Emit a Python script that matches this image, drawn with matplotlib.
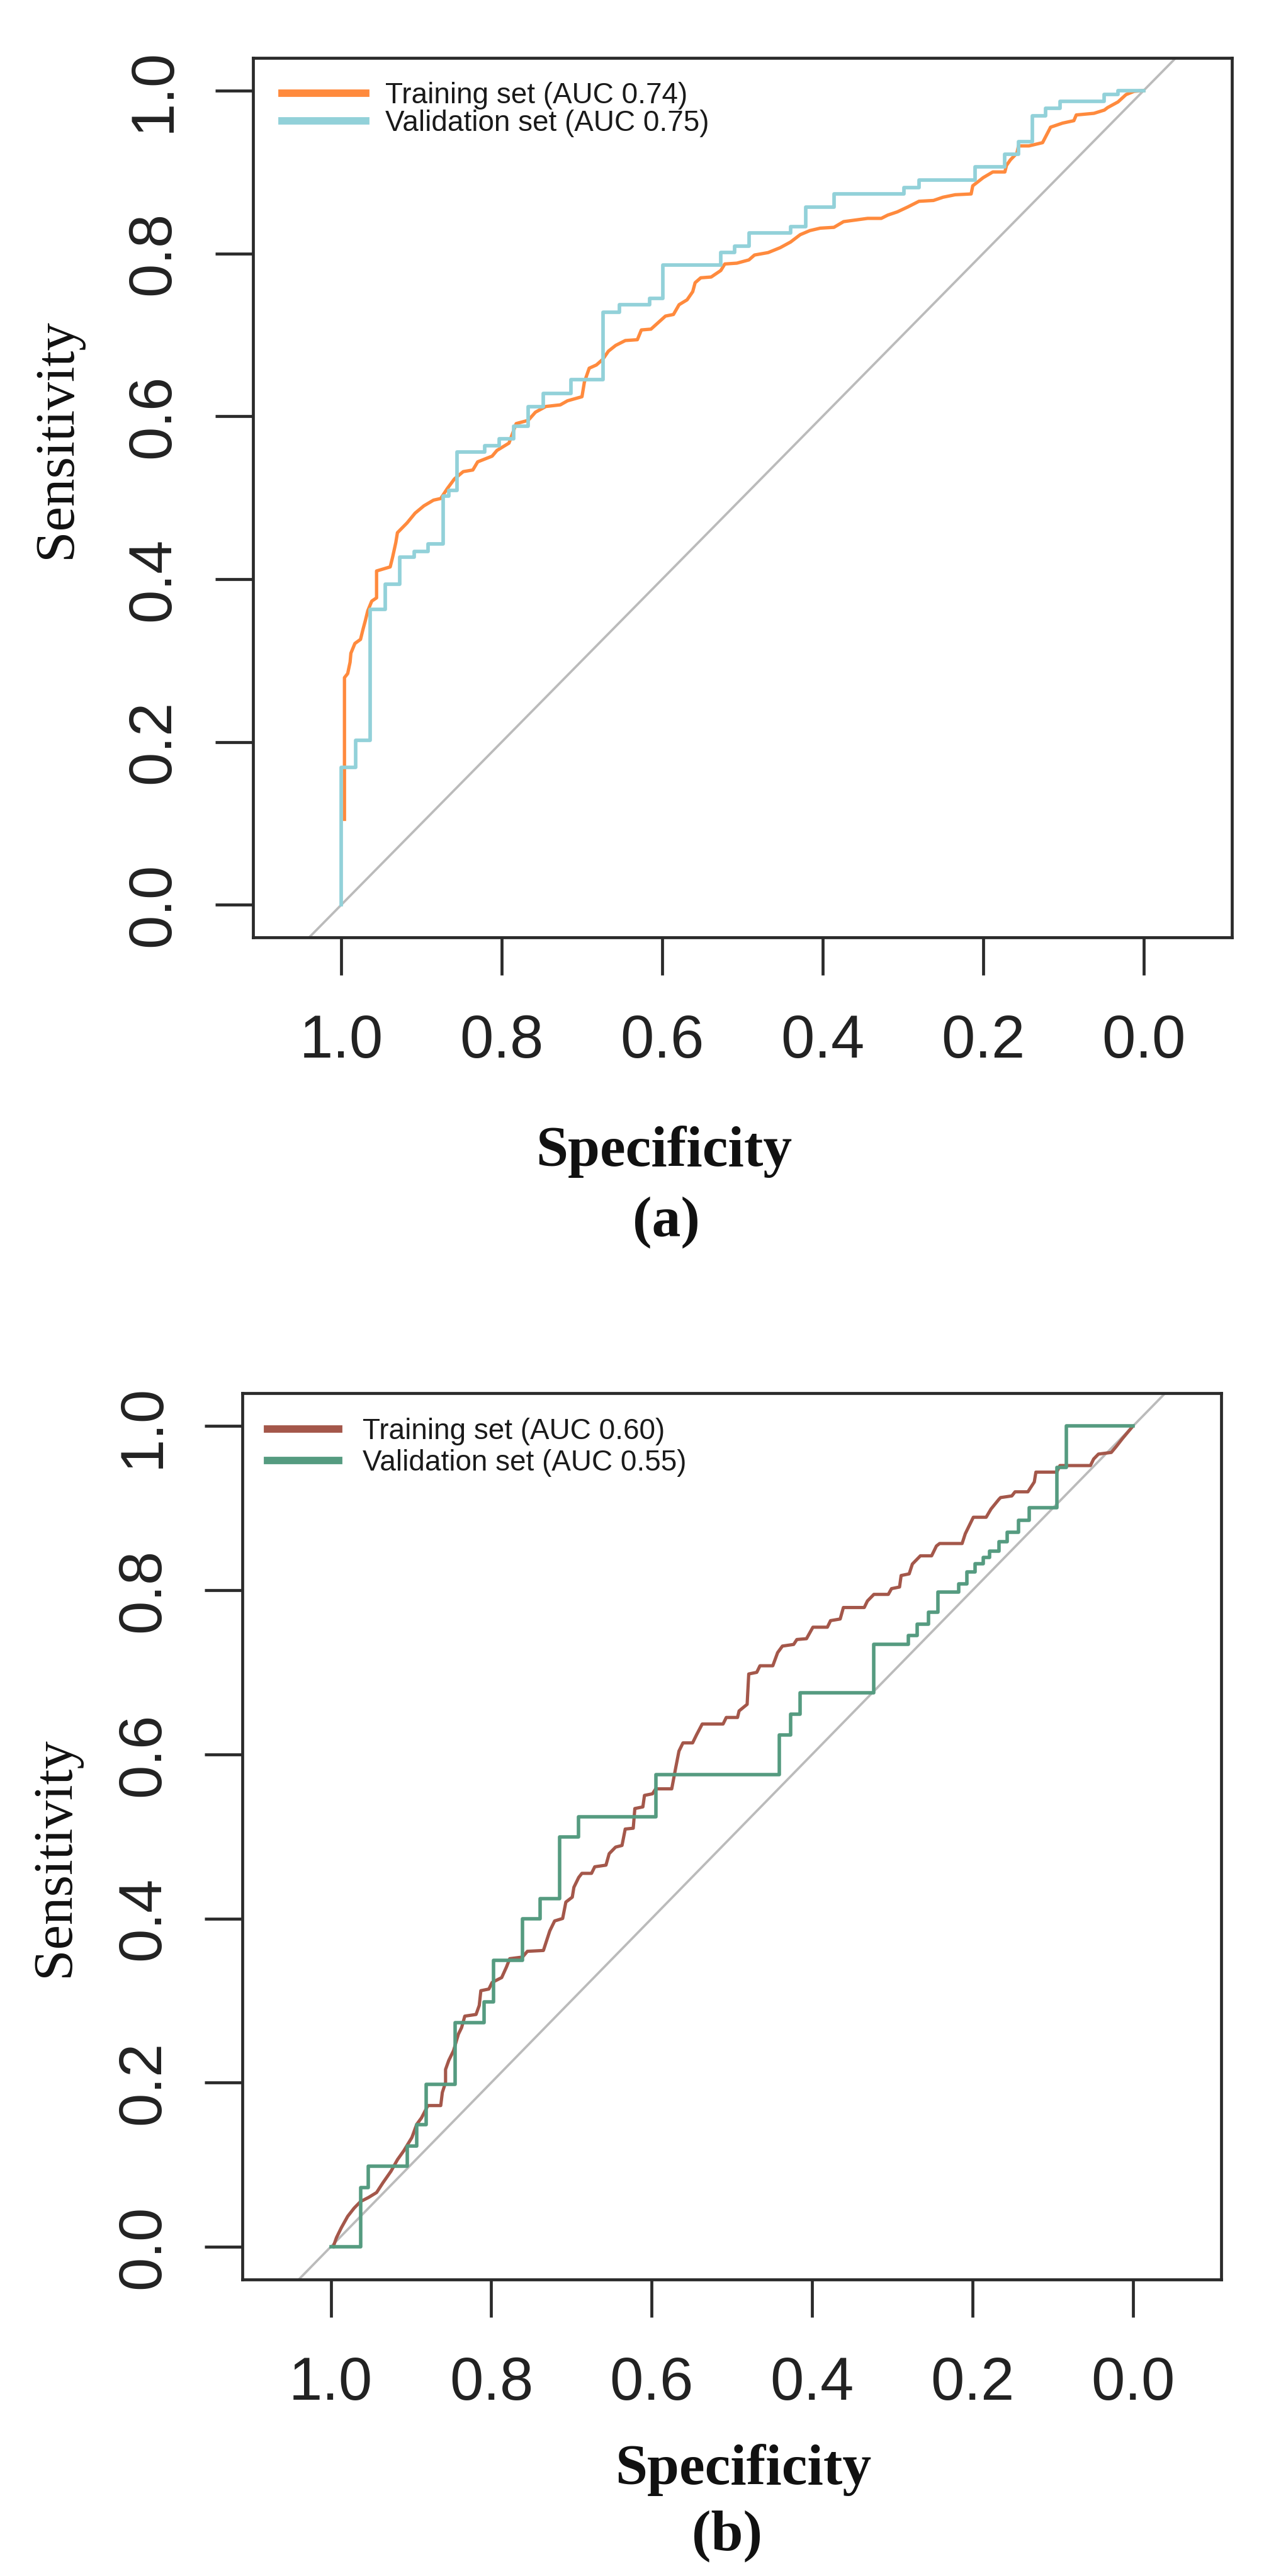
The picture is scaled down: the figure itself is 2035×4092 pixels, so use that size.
import matplotlib
matplotlib.use("Agg")
import matplotlib.pyplot as plt

plt.rcParams['font.family'] = ['Liberation Sans', 'DejaVu Sans']

# ---------------- data: panel (a) ----------------
train_a_spec = [0.996, 0.996, 0.992, 0.989, 0.988, 0.983, 0.976, 0.973, 0.970, 0.967,
                0.962, 0.956, 0.956, 0.939, 0.936, 0.932, 0.930, 0.918, 0.908, 0.897,
                0.885, 0.876, 0.868, 0.859, 0.848, 0.836, 0.830, 0.812, 0.806, 0.791,
                0.782, 0.767, 0.758, 0.745, 0.727, 0.718, 0.700, 0.697, 0.691, 0.682,
                0.674, 0.667, 0.658,
                0.646, 0.631, 0.626, 0.614, 0.596, 0.586, 0.579, 0.569, 0.562, 0.559,
                0.552, 0.539, 0.527, 0.522, 0.507, 0.492, 0.485, 0.468, 0.453, 0.440,
                0.428, 0.416, 0.403, 0.386, 0.374, 0.359, 0.344, 0.327, 0.319, 0.307,
                0.294, 0.280, 0.262, 0.250, 0.235, 0.215, 0.213, 0.200, 0.188, 0.173,
                0.171, 0.166, 0.158, 0.156, 0.143, 0.126, 0.116, 0.101, 0.087, 0.084,
                0.062, 0.049, 0.045, 0.032, 0.022, 0.012, 0.000]
train_a_sens = [0.105, 0.279, 0.284, 0.298, 0.309, 0.321, 0.326, 0.338, 0.349, 0.361,
                0.373, 0.377, 0.410, 0.415, 0.427, 0.445, 0.457, 0.469, 0.481, 0.490,
                0.497, 0.499, 0.511, 0.523, 0.532, 0.534, 0.544, 0.551, 0.558, 0.567,
                0.591, 0.595, 0.605, 0.612, 0.614, 0.619, 0.624, 0.642, 0.659, 0.663,
                0.670, 0.680, 0.687,
                0.693, 0.694, 0.706, 0.707, 0.723, 0.725, 0.737, 0.743, 0.753, 0.764,
                0.770, 0.771, 0.779, 0.787, 0.788, 0.792, 0.798, 0.801, 0.807, 0.814,
                0.823, 0.828, 0.831, 0.832, 0.839, 0.841, 0.843, 0.843, 0.847, 0.851,
                0.857, 0.864, 0.865, 0.869, 0.872, 0.873, 0.883, 0.893, 0.900, 0.900,
                0.908, 0.915, 0.923, 0.932, 0.932, 0.936, 0.955, 0.960, 0.963, 0.970,
                0.972, 0.976, 0.979, 0.986, 0.995, 0.999, 1.000]

valid_a_spec = [1.000, 1.000, 0.982, 0.964, 0.945, 0.927, 0.909, 0.892, 0.873, 0.866,
                0.856, 0.821, 0.803, 0.785, 0.767, 0.748, 0.714, 0.674, 0.653, 0.616,
                0.599, 0.527, 0.510, 0.492, 0.440, 0.421, 0.386, 0.299, 0.280, 0.210,
                0.173, 0.156, 0.139, 0.122, 0.104, 0.049, 0.032, 0.000]
valid_a_sens = [0.000, 0.169, 0.202, 0.363, 0.394, 0.427, 0.434, 0.443, 0.502, 0.509,
                0.556, 0.564, 0.572, 0.588, 0.612, 0.628, 0.645, 0.728, 0.737, 0.745,
                0.786, 0.801, 0.809, 0.825, 0.833, 0.857, 0.873, 0.881, 0.890, 0.906,
                0.922, 0.937, 0.969, 0.978, 0.987, 0.995, 1.000, 1.000]

# ---------------- data: panel (b) ----------------
train_b_spec = [0.997, 0.993, 0.987, 0.979, 0.971, 0.963, 0.953, 0.943, 0.935, 0.925,
                0.917, 0.909, 0.899, 0.893, 0.887, 0.879, 0.863, 0.861, 0.857, 0.857,
                0.853, 0.847, 0.841, 0.837, 0.833, 0.819, 0.815, 0.813, 0.803, 0.799,
                0.787, 0.781, 0.777, 0.761, 0.755, 0.735, 0.731, 0.727, 0.721, 0.711,
                0.707, 0.699, 0.697, 0.691, 0.687, 0.675, 0.671, 0.657, 0.653, 0.645,
                0.637, 0.633, 0.623, 0.621, 0.611, 0.609, 0.599, 0.595, 0.575,
                0.570, 0.566, 0.561, 0.549, 0.544, 0.537, 0.511, 0.507, 0.493, 0.491,
                0.481, 0.479, 0.469, 0.465, 0.449, 0.443, 0.437, 0.423, 0.419, 0.407,
                0.399, 0.381, 0.377, 0.365, 0.361, 0.335, 0.331, 0.323, 0.305, 0.301,
                0.291, 0.289, 0.279, 0.275, 0.265, 0.251, 0.245, 0.241, 0.213, 0.209,
                0.205, 0.199, 0.183, 0.177, 0.167, 0.165, 0.151, 0.147, 0.131, 0.123,
                0.121, 0.095, 0.091, 0.053, 0.049, 0.043, 0.027, 0.021, 0.013, 0.001]
train_b_sens = [0.000, 0.011, 0.023, 0.037, 0.047, 0.055, 0.060, 0.066, 0.078, 0.092,
                0.106, 0.117, 0.133, 0.149, 0.157, 0.172, 0.172, 0.188, 0.200, 0.216,
                0.227, 0.239, 0.259, 0.267, 0.281, 0.283, 0.294, 0.312, 0.314, 0.322,
                0.328, 0.341, 0.351, 0.353, 0.360, 0.361, 0.373, 0.385, 0.397, 0.400,
                0.420, 0.426, 0.438, 0.450, 0.455, 0.455, 0.463, 0.465, 0.479, 0.487,
                0.489, 0.509, 0.510, 0.534, 0.536, 0.550, 0.552, 0.558, 0.558,
                0.584, 0.604, 0.614, 0.614, 0.624, 0.637, 0.637, 0.645, 0.645, 0.653,
                0.661, 0.698, 0.700, 0.708, 0.708, 0.724, 0.732, 0.734, 0.740, 0.741,
                0.755, 0.755, 0.763, 0.765, 0.779, 0.779, 0.787, 0.795, 0.795, 0.802,
                0.804, 0.818, 0.820, 0.832, 0.842, 0.842, 0.854, 0.857, 0.857, 0.869,
                0.877, 0.889, 0.889, 0.899, 0.911, 0.913, 0.915, 0.920, 0.920, 0.932,
                0.944, 0.944, 0.952, 0.952, 0.960, 0.966, 0.968, 0.975, 0.985, 0.999]

valid_b_spec = [1.000, 0.963, 0.953, 0.905, 0.893, 0.881, 0.845, 0.809, 0.797, 0.761,
                0.739, 0.715, 0.691, 0.595, 0.441, 0.427, 0.415, 0.323, 0.280, 0.269,
                0.255, 0.243, 0.217, 0.207, 0.197, 0.187, 0.179, 0.167, 0.157, 0.143,
                0.129, 0.095, 0.083, 0.000]
valid_b_sens = [0.000, 0.072, 0.098, 0.123, 0.149, 0.198, 0.273, 0.298, 0.349, 0.400,
                0.424, 0.499, 0.524, 0.575, 0.624, 0.649, 0.675, 0.734, 0.745, 0.759,
                0.773, 0.798, 0.808, 0.822, 0.832, 0.840, 0.848, 0.859, 0.871, 0.885,
                0.901, 0.950, 1.000, 1.000]

tick_values = [1.0, 0.8, 0.6, 0.4, 0.2, 0.0]
tick_labels = ["1.0", "0.8", "0.6", "0.4", "0.2", "0.0"]
labels_a = ["Training set (AUC 0.74)", "Validation set (AUC 0.75)"]
labels_b = ["Training set (AUC 0.60)", "Validation set (AUC 0.55)"]

# ---------------- styling ----------------
C_ORANGE = "#FF8A3D"
C_CYAN = "#92D1D9"
C_RED = "#A4574A"
C_GREEN = "#559B80"
C_DIAG = "#BBBBBB"
C_AX = "#2a2a2a"

W, H = 2035, 4092
fig = plt.figure(figsize=(W / 100, H / 100), dpi=100)
fig.patch.set_facecolor("white")


def style_axes(ax):
    ax.set_xlim(1.11, -0.11)
    ax.set_ylim(-0.04, 1.04)
    ax.set_xticks(tick_values)
    ax.set_xticklabels(tick_labels)
    ax.set_yticks(tick_values)
    ax.set_yticklabels(tick_labels)
    for s in ax.spines.values():
        s.set_linewidth(3.4)
        s.set_color(C_AX)
    ax.tick_params(axis="both", direction="out", length=43, width=3.4,
                   color=C_AX, labelsize=69, labelcolor="#222222")
    ax.tick_params(axis="x", pad=44)
    ax.tick_params(axis="y", pad=38, labelrotation=90)
    for lab in ax.get_yticklabels():
        lab.set_va("center")
        lab.set_ha("right")
    ax.axline((1.0, 0.0), (0.0, 1.0), color=C_DIAG, lw=2.7, zorder=1)


def add_legend(ax, handles, labels, anchor, hlen, tpad, lspace):
    leg = ax.legend(handles, labels, loc="upper left", bbox_to_anchor=anchor,
                    bbox_transform=fig.transFigure, frameon=False, fontsize=33,
                    handlelength=hlen, handletextpad=tpad, labelspacing=lspace,
                    borderpad=0, borderaxespad=0)
    for t in leg.get_texts():
        t.set_color("#1a1a1a")
    for ln in leg.get_lines():
        ln.set_linewidth(8.5)
    return leg


# ---------------- panel (a) ----------------
ax_a = fig.add_axes([0.1975, 0.6361, 0.7642, 0.3414])
style_axes(ax_a)
la1, = ax_a.plot(train_a_spec, train_a_sens, color=C_ORANGE, lw=3.8, zorder=3)
la2, = ax_a.plot(valid_a_spec, valid_a_sens, color=C_CYAN, lw=4.1,
                 drawstyle="steps-post", zorder=4)
add_legend(ax_a, [la1, la2], labels_a, (0.2201, 0.9682), 2.9, 0.68, 0.0)

fig.text(0.0447, 0.8297, "Sensitivity", rotation=90, ha="center", va="center",
         family=["Liberation Serif", "DejaVu Serif"], fontsize=64, color="#111111")
fig.text(0.5184, 0.5528, "Specificity", ha="center", va="center",
         family=["Liberation Serif", "DejaVu Serif"], fontsize=66,
         fontweight="bold", color="#111111")
fig.text(0.5199, 0.5254, "(a)", ha="center", va="center",
         family=["Liberation Serif", "DejaVu Serif"], fontsize=66,
         fontweight="bold", color="#111111")

# ---------------- panel (b) ----------------
ax_b = fig.add_axes([0.1894, 0.1151, 0.7639, 0.3440])
style_axes(ax_b)
lb1, = ax_b.plot(train_b_spec, train_b_sens, color=C_RED, lw=3.7, zorder=3)
lb2, = ax_b.plot(valid_b_spec, valid_b_sens, color=C_GREEN, lw=4.0,
                 drawstyle="steps-post", zorder=4)
add_legend(ax_b, [lb1, lb2], labels_b, (0.2088, 0.4497), 2.47, 0.83, 0.13)

fig.text(0.0432, 0.2791, "Sensitivity", rotation=90, ha="center", va="center",
         family=["Liberation Serif", "DejaVu Serif"], fontsize=64, color="#111111")
fig.text(0.5803, 0.0411, "Specificity", ha="center", va="center",
         family=["Liberation Serif", "DejaVu Serif"], fontsize=66,
         fontweight="bold", color="#111111")
fig.text(0.5676, 0.0156, "(b)", ha="center", va="center",
         family=["Liberation Serif", "DejaVu Serif"], fontsize=66,
         fontweight="bold", color="#111111")

fig.savefig("out.png", dpi=100, facecolor="white")
